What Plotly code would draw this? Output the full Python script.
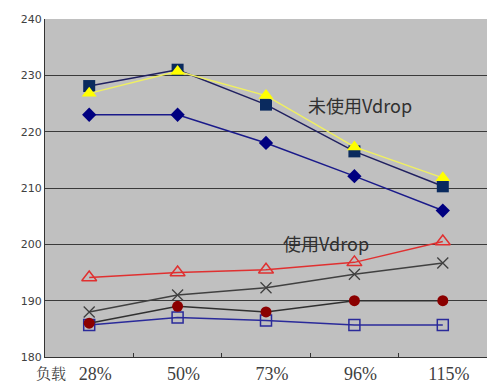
import plotly.graph_objects as go

categories = ["28%", "50%", "73%", "96%", "115%"]
tick_labels = ["28%", "50%", "73%", "96%", "115%"]

navy_square = [228.1, 231.0, 224.8, 216.5, 210.3]
yellow_triangle = [226.8, 230.7, 226.4, 217.3, 211.8]
navy_diamond = [223.0, 223.0, 218.0, 212.1, 206.0]
red_open_triangle = [194.1, 195.0, 195.5, 196.8, 200.5]
gray_x = [188.0, 191.0, 192.3, 194.7, 196.7]
darkred_circle = [186.0, 189.0, 188.0, 190.0, 190.0]
blue_open_square = [185.7, 187.0, 186.5, 185.7, 185.7]

y_ticks = [180, 190, 200, 210, 220, 230, 240]

fig = go.Figure()

def add(y, line_color, marker):
    fig.add_trace(go.Scatter(x=categories, y=y, mode="lines+markers",
                             line=dict(color=line_color, width=1.5),
                             marker=marker, showlegend=False, cliponaxis=False))

add(blue_open_square, "#2a2a9a", dict(symbol="square-open", size=11, color="#2a2a9a", line=dict(width=1.5)))
add(darkred_circle, "#303030", dict(symbol="circle", size=11, color="#8b0000"))
add(gray_x, "#404040", dict(symbol="x-thin-open", size=11, color="#404040", line=dict(width=1.3)))
add(red_open_triangle, "#e03030", dict(symbol="triangle-up-open", size=13, color="#e03030", line=dict(width=1.5)))
add(navy_diamond, "#1a1a8a", dict(symbol="diamond", size=11, color="#000080"))
add(navy_square, "#202060", dict(symbol="square", size=12, color="#0a2a5e"))
add(yellow_triangle, "#f0f060", dict(symbol="triangle-up", size=13, color="#ffff00"))

fig.add_annotation(x=3.06, y=240 - (105 - 19) / 5.633, xref="x", yref="y", text="未使用Vdrop",
                   showarrow=False, font=dict(family="Noto Sans CJK SC", size=18, color="#303030"))
fig.add_annotation(x=2.68, y=240 - (243 - 19) / 5.633, xref="x", yref="y", text="使用Vdrop",
                   showarrow=False, font=dict(family="Noto Sans CJK SC", size=18, color="#303030"))
fig.add_annotation(x=(51 - 45) / 442, y=0, xref="paper", yref="paper", xanchor="center", yanchor="middle",
                   yshift=-15, text="负载", showarrow=False,
                   font=dict(family="Noto Serif CJK SC, Noto Sans CJK SC", size=15, color="#404040"))

# page body has an 8px default margin, so the figure is shifted by 8px
fig.update_layout(
    width=490, height=375,
    margin=dict(l=37, r=11, t=11, b=26),
    paper_bgcolor="white", plot_bgcolor="#c0c0c0",
    xaxis=dict(type="category", range=[-0.5, 4.5], tickvals=categories, ticktext=tick_labels,
               tickson="boundaries", ticks="inside", ticklen=4, tickcolor="#333333",
               showgrid=False, showline=True, linecolor="#333333", linewidth=1,
               tickfont=dict(family="Liberation Serif", size=18, color="#404040"),
               ticklabelshift=6, automargin=False),
    yaxis=dict(range=[180, 240], tickvals=y_ticks, showgrid=True, gridcolor="#3a3a3a", gridwidth=1,
               showline=True, linecolor="#333333", linewidth=1, zeroline=False, automargin=False,
               tickfont=dict(family="DejaVu Sans", size=11, color="#404040"), ticks=""),
)

fig.write_html("out.html")
